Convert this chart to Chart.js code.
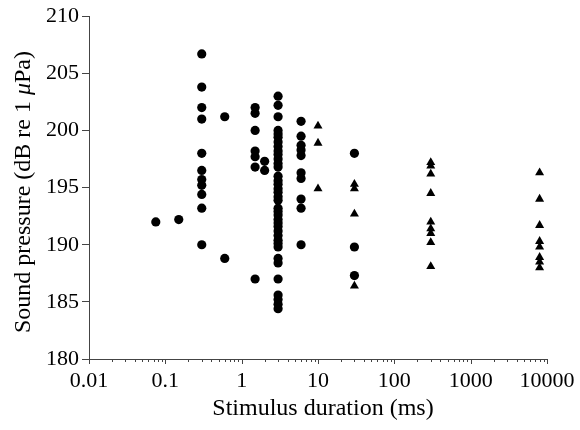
<!DOCTYPE html>
<html>
<head>
<meta charset="utf-8">
<script src="https://cdn.jsdelivr.net/npm/chart.js@4.4.0/dist/chart.umd.min.js"></script>
<style>
  html, body { margin: 0; padding: 0; background: #fff; }
  #wrap { width: 580px; height: 430px; }
</style>
</head>
<body>
<div id="wrap"><canvas id="chart" width="580" height="430"></canvas></div>
<script>
// circles (dB re 1 uPa vs stimulus duration in ms)
const circleX = [
  0.075, 0.15,
  0.3, 0.3, 0.3, 0.3, 0.3, 0.3, 0.3, 0.3, 0.3, 0.3, 0.3,
  0.6, 0.6,
  1.5, 1.5, 1.5, 1.5, 1.5, 1.5, 1.5,
  2, 2,
  3, 3, 3, 3, 3, 3, 3, 3, 3, 3, 3, 3, 3, 3,
  3, 3, 3, 3, 3, 3, 3, 3, 3, 3, 3, 3, 3, 3,
  3, 3, 3, 3, 3, 3, 3, 3, 3, 3,
  6, 6, 6, 6, 6, 6, 6, 6, 6, 6,
  30, 30, 30
];
const circleY = [
  192.0, 192.2,
  206.7, 203.8, 202.0, 201.0, 198.0, 196.5, 195.7, 195.2, 194.4, 193.2, 190.0,
  201.2, 188.8,
  202.0, 201.5, 200.0, 198.2, 197.7, 196.8, 187.0,
  197.3, 196.5,
  203.0, 202.2, 201.2, 200.0, 199.7, 199.4, 199.0, 198.6, 198.2, 197.9, 197.5, 197.1, 196.8, 196.0,
  195.6, 195.3, 194.9, 194.6, 194.2, 193.9, 193.2, 192.9, 192.6, 192.2, 191.9, 191.6, 191.2, 190.8,
  190.4, 190.1, 189.8, 188.8, 188.4, 187.0, 185.6, 185.2, 184.8, 184.4,
  200.8, 199.5, 198.7, 198.3, 197.8, 196.3, 195.8, 194.0, 193.2, 190.0,
  198.0, 189.8, 187.3
];
// triangles
const triX = [
  10, 10, 10,
  30, 30, 30, 30,
  300, 300, 300, 300, 300, 300, 300, 300, 300,
  8000, 8000, 8000, 8000, 8000, 8000, 8000, 8000
];
const triY = [
  200.4, 198.9, 194.9,
  195.3, 194.9, 192.7, 186.4,
  197.2, 196.9, 196.2, 194.5, 192.0, 191.4, 191.0, 190.2, 188.1,
  196.3, 194.0, 191.7, 190.3, 189.8, 188.9, 188.5, 188.0
];
const xTickLabels = ['0.01', '0.1', '1', '10', '100', '1000', '10000'];
const yTicks = [180, 185, 190, 195, 200, 205, 210];

const serif = '"Liberation Serif", "Times New Roman", serif';
const axisColor = '#444';

function pts(xs, ys) {
  return xs.map((x, i) => ({ x: x, y: ys[i] }));
}

// extra decorations: minor/major ticks on the log axis and the axis titles
const extras = {
  id: 'extras',
  afterDraw(chart) {
    const ctx = chart.ctx;
    const xs = chart.scales.x;
    const area = chart.chartArea;
    ctx.save();
    ctx.strokeStyle = axisColor;
    ctx.lineWidth = 1;
    xs.ticks.forEach(t => {
      const px = Math.round(xs.getPixelForValue(t.value)) + 0.5;
      const major = Math.abs(Math.log10(t.value) - Math.round(Math.log10(t.value))) < 1e-6;
      ctx.beginPath();
      ctx.moveTo(px, area.bottom);
      ctx.lineTo(px, area.bottom + (major ? 5 : 3));
      ctx.stroke();
    });

    ctx.fillStyle = '#000';
    // x title
    ctx.font = '24px ' + serif;
    ctx.textAlign = 'center';
    ctx.textBaseline = 'alphabetic';
    ctx.fillText('Stimulus duration (ms)', (area.left + area.right) / 2 + 5, 415);

    // y title with italic mu
    const parts = [
      { t: 'Sound pressure (dB re 1 ', f: '24px ' + serif },
      { t: 'μ', f: 'italic 24px ' + serif },
      { t: 'Pa)', f: '24px ' + serif }
    ];
    let total = 0;
    parts.forEach(p => { ctx.font = p.f; p.w = ctx.measureText(p.t).width; total += p.w; });
    ctx.translate(30, 192);
    ctx.rotate(-Math.PI / 2);
    ctx.textAlign = 'left';
    let x0 = -total / 2;
    parts.forEach(p => { ctx.font = p.f; ctx.fillText(p.t, x0, 0); x0 += p.w; });
    ctx.restore();
  }
};

new Chart(document.getElementById('chart').getContext('2d'), {
  type: 'scatter',
  data: {
    datasets: [
      {
        label: 'circles',
        data: pts(circleX, circleY),
        pointStyle: 'circle',
        pointRadius: 4.6,
        backgroundColor: '#000',
        borderColor: '#000',
        borderWidth: 0
      },
      {
        label: 'triangles',
        data: pts(triX, triY),
        pointStyle: 'triangle',
        pointRadius: 5.2,
        backgroundColor: '#000',
        borderColor: '#000',
        borderWidth: 0
      }
    ]
  },
  options: {
    responsive: false,
    animation: false,
    layout: { padding: { left: 0, right: 33, top: 15, bottom: 0 } },
    plugins: {
      legend: { display: false },
      tooltip: { enabled: false }
    },
    scales: {
      x: {
        type: 'logarithmic',
        min: 0.01,
        max: 10000,
        afterBuildTicks: function(scale) {
          const ticks = [];
          for (let d = -2; d < 4; d++) {
            for (let m = 1; m < 10; m++) ticks.push({ value: m * Math.pow(10, d) });
          }
          ticks.push({ value: 10000 });
          scale.ticks = ticks;
        },
        afterFit: function(scale) { scale.height = 71; },
        grid: { display: false, drawTicks: true, tickLength: 5 },
        border: { display: true, color: axisColor, width: 1 },
        ticks: {
          autoSkip: false,
          maxRotation: 0,
          padding: 4,
          color: '#000',
          font: { family: serif, size: 22 },
          callback: function(value) {
            const e = Math.log10(value);
            if (Math.abs(e - Math.round(e)) > 1e-6) return '';
            return xTickLabels[Math.round(e) + 2];
          }
        }
      },
      y: {
        min: 180,
        max: 210,
        afterBuildTicks: function(scale) {
          scale.ticks = yTicks.map(v => ({ value: v }));
        },
        afterFit: function(scale) { scale.width = 89; },
        grid: { drawOnChartArea: false, drawTicks: true, tickLength: 7, color: axisColor },
        border: { display: true, color: axisColor, width: 1 },
        ticks: {
          padding: 3,
          color: '#000',
          font: { family: serif, size: 22 }
        }
      }
    }
  },
  plugins: [extras]
});
</script>
</body>
</html>
